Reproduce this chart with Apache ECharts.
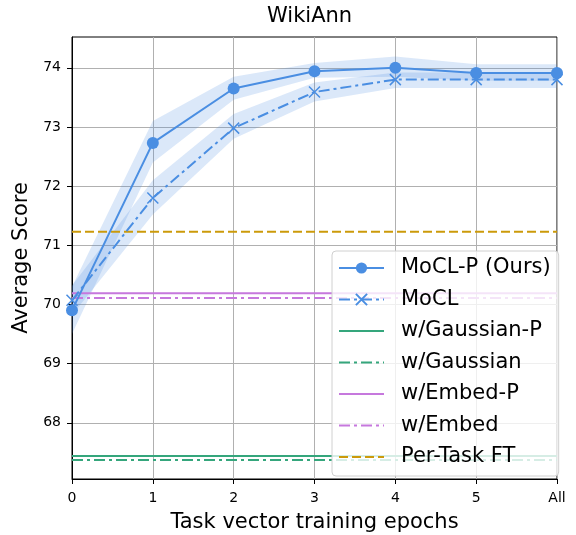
<!DOCTYPE html>
<html>
<head>
<meta charset="utf-8">
<title>WikiAnn</title>
<script src="https://cdn.jsdelivr.net/npm/echarts@6.0.0/dist/echarts.min.js"></script>
<style>
    html, body { margin: 0; padding: 0; background: #fff; }
    #chart { width: 576px; height: 535px; }
</style>
</head>
<body>
<div id="chart"></div>
<script>
// data
const epochs = ['0', '1', '2', '3', '4', '5', 'All'];
const yTicks = [68, 69, 70, 71, 72, 73, 74];

const moclP = [69.9, 72.73, 73.65, 73.94, 74.0, 73.91, 73.91];
const moclPLow = [69.5, 72.4, 73.46, 73.83, 73.85, 73.78, 73.78];
const moclPHigh = [70.3, 73.1, 73.85, 74.08, 74.19, 74.06, 74.06];

const mocl = [70.07, 71.8, 72.98, 73.59, 73.8, 73.8, 73.8];
const moclLow = [69.82, 71.52, 72.8, 73.43, 73.66, 73.66, 73.66];
const moclHigh = [70.32, 72.1, 73.22, 73.75, 73.92, 73.92, 73.92];

// flat baselines (same score at every epoch)
const gaussianP = 67.44;
const gaussian = 67.37;
const embedP = 70.19;
const embed = 70.11;
const perTaskFT = 71.23;

const colors = {
    blue: '#4a8ee2',
    band: 'rgba(74,142,226,0.2)',
    green: '#35a67c',
    purple: '#c678dd',
    gold: '#cc9a0a',
};

const font = 'DejaVu Sans';
const dashDot = [11, 4, 3, 4];

const flat = v => epochs.map(() => v);
const diff = (hi, lo) => hi.map((h, i) => +(h - lo[i]).toFixed(3));

function bandSeries(stack, low, high) {
    const base = {
        type: 'line',
        stack: stack,
        symbol: 'none',
        silent: true,
        lineStyle: { opacity: 0 },
        z: 1,
    };
    return [
        { ...base, name: stack + '-low', data: low },
        { ...base, name: stack + '-band', data: diff(high, low), areaStyle: { color: colors.band, opacity: 1 } },
    ];
}

function hline(name, value, color, type) {
    return {
        name: name,
        type: 'line',
        data: flat(value),
        symbol: 'none',
        lineStyle: { color: color, width: 2, type: type },
        // keep the legend icon a bare line
        itemStyle: { color: color, opacity: 0 },
        z: 3,
    };
}

const chart = echarts.init(document.getElementById('chart'));

const option = {
    backgroundColor: '#fff',
    animation: false,
    title: {
        text: 'WikiAnn',
        left: 267,
        top: 6,
        padding: 0,
        textStyle: { fontFamily: font, fontSize: 21, fontWeight: 'normal', color: '#000' },
    },
    grid: {
        left: 72,
        right: 19,
        top: 37,
        bottom: 56,
        outerBoundsMode: 'none',
        show: true,
        borderColor: '#000',
        borderWidth: 1,
        backgroundColor: 'transparent',
    },
    legend: {
        data: ['MoCL-P (Ours)', 'MoCL', 'w/Gaussian-P', 'w/Gaussian', 'w/Embed-P', 'w/Embed', 'Per-Task FT'],
        orient: 'vertical',
        left: 332,
        top: 251,
        padding: [6, 8, 8, 6],
        itemWidth: 45,
        itemHeight: 14,
        itemGap: 9.5,
        backgroundColor: 'rgba(255,255,255,0.8)',
        borderColor: '#d0d0d0',
        borderWidth: 1,
        borderRadius: 4,
        textStyle: { fontFamily: font, fontSize: 21, color: '#000', lineHeight: 22, padding: [0, 0, 0, 12] },
        z: 10,
    },
    xAxis: {
        type: 'category',
        data: epochs,
        boundaryGap: false,
        name: 'Task vector training epochs',
        nameLocation: 'middle',
        nameGap: 33,
        nameTextStyle: { fontFamily: font, fontSize: 21, color: '#000' },
        axisLine: { lineStyle: { color: '#000', width: 1 } },
        axisTick: { show: true, inside: false, length: 5, lineStyle: { color: '#000' }, alignWithLabel: true },
        axisLabel: { fontFamily: font, fontSize: 14, color: '#000', margin: 12 },
        splitLine: { show: true, lineStyle: { color: '#b0b0b0', width: 1 } },
    },
    yAxis: {
        type: 'value',
        min: 67.05,
        max: 74.52,
        splitNumber: 7,
        name: 'Average Score',
        nameLocation: 'middle',
        nameGap: 34,
        nameTextStyle: { fontFamily: font, fontSize: 21, color: '#000' },
        axisLine: { show: true, lineStyle: { color: '#000', width: 1 } },
        axisTick: { show: true, length: 5, lineStyle: { color: '#000' }, customValues: yTicks },
        axisLabel: { fontFamily: font, fontSize: 14, color: '#000', margin: 11, customValues: yTicks },
        splitLine: { show: true, lineStyle: { color: '#b0b0b0', width: 1 } },
    },
    series: [
        ...bandSeries('p', moclPLow, moclPHigh),
        ...bandSeries('m', moclLow, moclHigh),
        hline('w/Gaussian-P', gaussianP, colors.green, 'solid'),
        hline('w/Gaussian', gaussian, colors.green, dashDot),
        hline('w/Embed-P', embedP, colors.purple, 'solid'),
        hline('w/Embed', embed, colors.purple, dashDot),
        hline('Per-Task FT', perTaskFT, colors.gold, [9, 4]),
        {
            name: 'MoCL-P (Ours)',
            type: 'line',
            data: moclP,
            symbol: 'circle',
            symbolSize: 12,
            lineStyle: { color: colors.blue, width: 2 },
            itemStyle: { color: colors.blue },
            z: 5,
        },
        {
            name: 'MoCL',
            type: 'line',
            data: mocl,
            symbol: 'path://M0,0L10,10M10,0L0,10',
            symbolSize: 11,
            lineStyle: { color: colors.blue, width: 2, type: dashDot },
            itemStyle: { color: 'none', borderColor: colors.blue, borderWidth: 1.5 },
            z: 5,
        },
    ],
};

chart.setOption(option);
window.addEventListener('resize', () => chart.resize());
</script>
</body>
</html>
